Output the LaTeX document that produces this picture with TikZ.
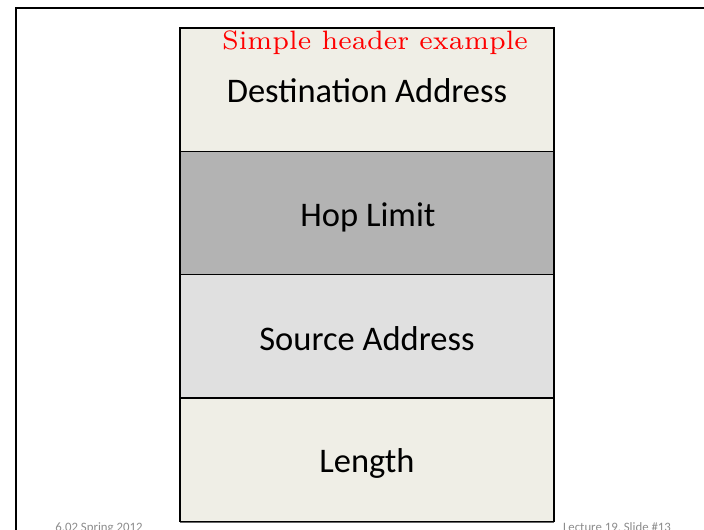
\documentclass[tikz,border=0pt]{standalone}
\usepackage{fontspec}
\setmainfont{Carlito}
\newfontfamily\titlefont{lmroman7-regular.otf}
\begin{document}
\begin{tikzpicture}[x=1pt,y=-1pt,
  field/.style={draw=black, line width=1.2pt, minimum width=374pt, minimum height=123.3pt,
    inner sep=0pt, outer sep=0pt, anchor=north west},
  label/.style={font=\fontsize{34.5}{40}\selectfont, anchor=base, inner sep=0pt},
  foot/.style={text=black!45, font=\fontsize{12.8}{15}\selectfont, inner sep=0pt, anchor=base}]
  \useasboundingbox (0,0) rectangle (704,530);
  \fill[white] (0,0) rectangle (704,530);
  % slide frame
  \draw[line width=2.2pt] (16,532) -- (16,8) -- (706,8);
  % header fields
  \node[field, fill={rgb,255:red,239;green,238;blue,230}] (dst) at (180,28) {};
  \node[field, fill={rgb,255:red,179;green,179;blue,179}] (hop) at (dst.south west) {};
  \node[field, fill={rgb,255:red,224;green,224;blue,224}] (src) at (hop.south west) {};
  \node[field, fill={rgb,255:red,239;green,238;blue,230}] (len) at (src.south west) {};
  \draw[black!60, line width=1pt] ([yshift=-1.2pt]len.south west) -- ([yshift=-1.2pt]len.south east);
  % labels
  \node[text=red, font=\titlefont\fontsize{26.6}{30}\selectfont, anchor=base, inner sep=0pt] (ttl) at (375,49) {Simple header example};
  \node[label] (dstl) at (367,102) {Destination Address};
  \node[label] (hopl) at (368,226) {Hop Limit};
  \node[label] (srcl) at (367,350) {Source Address};
  \node[label] (lenl) at (367,472) {Length};
  % footer
  \node[foot] (f1) at (99,531) {6.02 Spring 2012};
  \node[foot] (f2) at (617,531) {Lecture 19, Slide \#13};
\end{tikzpicture}
\end{document}
